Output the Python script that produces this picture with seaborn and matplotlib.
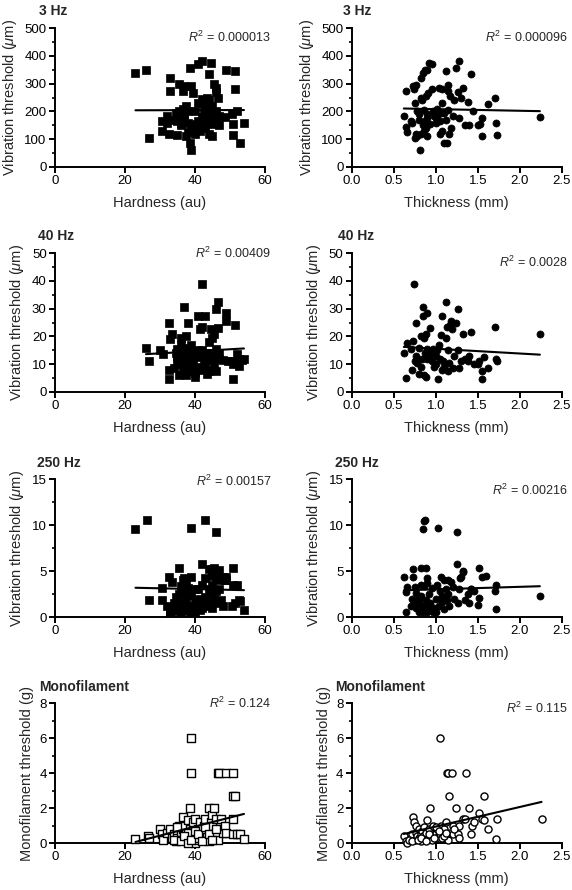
import numpy as np
import pandas as pd
import matplotlib
matplotlib.use("Agg")
import matplotlib.pyplot as plt
import seaborn as sns
from matplotlib.ticker import AutoMinorLocator, FormatStrFormatter

sns.set_style("ticks")
plt.rcParams["font.family"] = ["Liberation Sans", "DejaVu Sans"]
plt.rcParams["mathtext.fontset"] = "custom"
plt.rcParams["mathtext.rm"] = "Liberation Sans"
plt.rcParams["mathtext.it"] = "Liberation Sans:italic"

# ===============================
# Data
# ===============================
# 3 Hz
hard_3 = [23, 26, 27, 30.5, 30.5, 32, 32, 32.5, 33, 33,
          34, 34.5, 35, 35, 35.5, 35.5, 36, 36, 36, 36.5,
          36.5, 37, 37, 37, 37.5, 37.5, 38, 38, 38.5, 38.5,
          39, 39, 39, 39.5, 40, 40, 40.5, 41, 41, 41,
          41.5, 42, 42, 42, 42.5, 43, 43, 43.5, 44, 44,
          44, 44, 44.5, 44.5, 45, 45, 45, 45.5, 45.5, 46,
          46, 46, 46, 46.5, 47, 47, 48.5, 49, 50.5, 51,
          51, 51.5, 51.5, 52, 53, 54, 40, 43, 38, 35]
vib3_h = [340, 350, 105, 165, 130, 185, 160, 120, 275, 320,
          170, 195, 115, 185, 300, 200, 180, 150, 160, 275,
          210, 290, 190, 170, 110, 220, 200, 125, 355, 85,
          290, 60, 135, 265, 120, 155, 140, 230, 165, 370,
          130, 380, 245, 180, 200, 140, 225, 250, 335, 240,
          120, 175, 375, 195, 155, 110, 220, 300, 180, 285,
          270, 200, 160, 250, 150, 185, 180, 350, 190, 155,
          115, 345, 280, 200, 85, 160, 200, 165, 160, 165]
thick_3 = [0.62, 0.65, 0.65, 0.66, 0.7, 0.72, 0.73, 0.74, 0.75, 0.75,
           0.76, 0.77, 0.78, 0.78, 0.8, 0.8, 0.81, 0.82, 0.82, 0.83,
           0.84, 0.85, 0.85, 0.86, 0.86, 0.87, 0.87, 0.88, 0.88, 0.89,
           0.9, 0.9, 0.9, 0.91, 0.92, 0.93, 0.95, 0.96, 0.97, 0.98,
           1.0, 1.0, 1.02, 1.03, 1.04, 1.05, 1.05, 1.06, 1.07, 1.08,
           1.08, 1.1, 1.1, 1.12, 1.12, 1.13, 1.14, 1.15, 1.15, 1.16,
           1.17, 1.18, 1.2, 1.22, 1.24, 1.27, 1.28, 1.28, 1.3, 1.33,
           1.35, 1.38, 1.4, 1.42, 1.44, 1.5, 1.53, 1.55, 1.55, 1.62,
           1.7, 1.72, 1.73, 2.24]
vib3_t = [185, 275, 145, 125, 165, 160, 290, 280, 230, 105,
          295, 120, 200, 110, 190, 170, 60, 250, 120, 320,
          240, 340, 150, 205, 130, 350, 165, 255, 140, 350,
          190, 175, 110, 265, 375, 155, 280, 370, 200, 185,
          175, 160, 210, 190, 285, 120, 165, 195, 280, 230,
          130, 195, 85, 345, 170, 85, 295, 275, 205, 120,
          255, 140, 185, 240, 355, 270, 380, 175, 250, 285,
          150, 235, 150, 335, 200, 150, 155, 175, 110, 225,
          250, 160, 115, 180]

# 40 Hz
hard_40 = [26, 27, 30, 31, 32.5, 32.5, 32.5, 33, 33.5, 34,
           34.5, 35, 35, 35.5, 35.5, 36, 36, 36, 36.5, 36.5,
           37, 37, 37, 37.5, 37.5, 38, 38, 38, 38.5, 39,
           39, 39.5, 40, 40, 40, 40.5, 41, 41, 41.5, 42,
           42, 42, 42, 42.5, 43, 43, 43, 43.5, 44, 44,
           44, 44.5, 44.5, 45, 45, 45, 45.5, 45.5, 46, 46,
           46, 46, 46.5, 46.5, 47, 47, 48, 49, 49, 50.5,
           51, 51, 51.5, 52, 52.5, 53.5, 54, 38.5, 41, 39.5,
           35, 52.5, 49.5]
vib40_h = [16, 11, 15, 13.5, 8, 4.8, 25, 19, 21, 8.6,
           14, 15.5, 11, 6, 13, 17, 10, 19.5, 12, 8,
           30.5, 14, 11, 20, 6, 25, 16, 9, 7.5, 17,
           10, 8.5, 14, 5.5, 7, 12.5, 27.5, 9, 22.5, 39,
           15, 23.5, 8, 11, 27.5, 14, 10, 6.5, 18, 11.5,
           7.5, 22.5, 13, 19.5, 8, 14, 21, 10, 30, 15.5,
           7.5, 12.5, 32.5, 23, 14, 12, 11.5, 28.5, 25.5, 11,
           10, 4.5, 24, 13.5, 12, 11.5, 12, 13, 15, 11,
           12.5, 9.5, 11]
thick_40 = [0.62, 0.65, 0.66, 0.7, 0.72, 0.73, 0.74, 0.75, 0.76, 0.77,
            0.78, 0.8, 0.8, 0.82, 0.83, 0.84, 0.85, 0.85, 0.86, 0.86,
            0.87, 0.88, 0.88, 0.89, 0.9, 0.9, 0.92, 0.93, 0.95, 0.97,
            0.98, 1.0, 1.02, 1.03, 1.04, 1.05, 1.06, 1.07, 1.08, 1.09,
            1.1, 1.12, 1.12, 1.13, 1.14, 1.15, 1.16, 1.17, 1.18, 1.19,
            1.2, 1.22, 1.24, 1.26, 1.27, 1.28, 1.3, 1.33, 1.35, 1.38,
            1.4, 1.42, 1.45, 1.5, 1.52, 1.55, 1.55, 1.58, 1.62, 1.7,
            1.72, 1.73, 2.24, 1.0, 0.95]
vib40_t = [14, 5.2, 17.8, 15.5, 8, 18.5, 39, 11, 24.8, 13,
           10.5, 6.5, 16, 20, 9, 12, 27.5, 30.5, 19.5, 6,
           14, 21, 5.5, 28.5, 15.5, 12, 13, 23, 14, 15.5,
           9, 10, 15, 4.8, 17, 12, 20.5, 8, 27.5, 11,
           9, 32.5, 19.5, 23.5, 15, 7.5, 10.5, 24, 25.5, 22.5,
           8.5, 13, 25, 30, 15, 8.5, 11, 21, 12, 11,
           13, 21.5, 10, 10, 11, 7.5, 4.5, 12.5, 8.5, 23.5,
           12, 11, 21, 13, 11]

# 250 Hz
hard_250 = [23, 26.4, 27, 30.5, 30.5, 32, 32.5, 33, 33, 33.5,
            34, 34.5, 35, 35.5, 35.5, 36, 36, 36, 36.5, 36.5,
            37, 37, 37, 37.5, 37.5, 38, 38, 38.5, 39, 39,
            39, 39.5, 40, 40, 40.5, 41, 41, 41.5, 42, 42,
            42, 43, 43, 43, 43.5, 44, 44, 44, 44.5, 45,
            45, 45, 45, 45.5, 46, 46, 46, 46, 46.5, 47,
            47, 47.5, 48, 48.5, 49, 50.5, 51, 51, 51.5, 52,
            52.5, 53, 54, 38, 40, 35, 41.5, 47, 48,
            49, 45.5, 33, 34]
vib250_h = [9.6, 10.5, 1.8, 3.2, 1.9, 1.2, 4.3, 0.5, 0.9, 3.8,
            1.5, 2.2, 0.7, 5.3, 2.5, 3.4, 1.0, 0.5, 4.0, 2.8,
            4.2, 1.5, 0.8, 3.6, 2.0, 3.2, 1.2, 0.6, 9.7, 4.3,
            2.4, 1.0, 1.8, 0.6, 1.3, 2.0, 3.0, 1.5, 5.8, 3.5,
            1.0, 10.5, 4.2, 2.2, 1.5, 5.2, 3.0, 1.2, 2.5, 5.2,
            4.5, 3.5, 1.0, 2.0, 9.3, 4.2, 2.8, 1.5, 5.0, 4.0,
            3.0, 1.8, 1.2, 4.0, 4.3, 1.2, 5.3, 3.5, 1.5, 3.5,
            1.8, 1.7, 0.8, 2.5, 3.0, 1.8, 0.8, 5.1, 4.3,
            4.0, 5.3, 0.6, 0.8]
thick_250 = [0.62, 0.65, 0.65, 0.66, 0.7, 0.72, 0.73, 0.73, 0.75, 0.76,
             0.77, 0.78, 0.8, 0.8, 0.82, 0.82, 0.83, 0.85, 0.87, 0.85,
             0.86, 0.86, 0.87, 0.88, 0.88, 0.89, 0.9, 0.9, 0.92, 0.93,
             0.95, 0.97, 0.98, 1.0, 1.02, 1.03, 1.04, 1.05, 1.06, 1.07,
             1.08, 1.1, 1.1, 1.12, 1.13, 1.14, 1.15, 1.16, 1.18, 1.2,
             1.22, 1.25, 1.25, 1.27, 1.28, 1.3, 1.32, 1.35, 1.38, 1.4,
             1.42, 1.45, 1.5, 1.52, 1.52, 1.6, 1.55, 1.7, 1.72, 1.72,
             2.24, 1.0, 0.95, 0.74, 0.8, 0.83, 0.85, 0.88,
             0.92, 1.42, 1.32, 1.29]
vib250_t = [4.4, 0.5, 2.7, 3.3, 1.2, 2.0, 5.2, 4.4, 3.3, 2.6,
            1.0, 1.8, 0.6, 1.5, 5.3, 2.3, 3.5, 9.6, 10.5, 1.2,
            10.4, 3.4, 0.8, 5.3, 1.9, 4.2, 3.7, 0.6, 2.5, 1.5,
            3.2, 0.6, 1.0, 2.0, 3.5, 9.7, 1.2, 2.8, 4.3, 1.6,
            2.3, 4.0, 0.9, 3.0, 1.8, 4.0, 2.5, 1.2, 3.8, 3.3,
            2.0, 5.8, 9.3, 1.5, 3.0, 4.3, 5.0, 1.8, 2.5, 1.5,
            3.0, 2.8, 1.3, 5.3, 2.1, 4.5, 4.3, 2.8, 3.5, 0.9,
            2.3, 0.6, 1.0, 1.5, 1.9, 1.0, 0.6, 1.3,
            0.8, 3.1, 4.9, 4.2]

# Monofilament
hard_mono = [23, 26.5, 27, 30, 30.5, 31, 32, 33, 33.5, 34,
             34.5, 35, 35, 35.5, 36, 36.5, 36.5, 37, 37, 37.5,
             38, 38, 38.5, 38.5, 39, 39, 39, 39.5, 40, 40,
             40, 41, 41, 41.5, 42, 42, 42.5, 43, 43, 43.5,
             44, 44, 44.5, 45, 45, 45, 45.5, 45.5, 46, 46,
             46.5, 46.5, 47, 47.5, 48, 48.5, 49, 49, 51, 51,
             51, 51.5, 51, 52, 53, 54, 36, 42, 44, 38,
             40, 34, 35, 36, 37, 38, 39, 40, 41, 42,
             43, 44, 45, 46]
mono_h = [0.25, 0.4, 0.3, 0.8, 0.5, 0.2, 0.6, 0.8, 0.3, 0.5,
          0.1, 0.7, 0.3, 1.0, 0.5, 1.5, 0.8, 0.3, 1.0, 0.6,
          1.3, 0.2, 2.0, 0.8, 6.0, 4.0, 0.4, 1.2, 0.0, 1.4,
          0.6, 0.2, 0.8, 1.2, 0.5, 0.4, 1.0, 1.4, 0.3, 0.6,
          2.0, 0.8, 1.2, 1.6, 0.5, 1.0, 2.0, 0.3, 1.4, 0.6,
          4.0, 0.2, 4.0, 1.4, 0.6, 1.0, 4.0, 0.6, 4.0, 2.7,
          1.4, 2.7, 0.5, 0.5, 0.5, 0.25, 0.2, 0.8, 0.1, 0.6,
          0.3, 0.2, 0.9, 0.1, 0.4, 0.0, 0.2, 0.7, 0.5, 0.1,
          0.9, 0.5, 0.2, 0.8]
thick_mono = [0.62, 0.65, 0.66, 0.7, 0.72, 0.73, 0.74, 0.75, 0.76, 0.77,
              0.78, 0.8, 0.8, 0.82, 0.83, 0.84, 0.85, 0.86, 0.87, 0.88,
              0.9, 0.9, 0.92, 0.93, 0.95, 0.97, 1.0, 1.0, 1.02, 1.05,
              1.05, 1.06, 1.08, 1.1, 1.12, 1.13, 1.15, 1.15, 1.16, 1.17,
              1.19, 1.2, 1.2, 1.24, 1.27, 1.28, 1.28, 1.32, 1.35, 1.36,
              1.4, 1.42, 1.43, 1.45, 1.52, 1.55, 1.57, 1.57, 1.62, 1.72,
              1.73, 2.26, 0.95, 1.1, 1.0, 0.68, 0.72, 0.79, 0.82, 0.88,
              0.92, 0.98, 1.04, 1.12, 1.22]
mono_t = [0.4, 0.1, 0.0, 0.3, 0.5, 1.5, 1.2, 0.2, 0.6, 1.0,
          0.4, 0.3, 0.8, 0.5, 0.1, 0.7, 0.4, 0.9, 0.3, 0.6,
          1.3, 0.2, 0.8, 2.0, 0.5, 1.0, 0.6, 0.3, 0.8, 6.0,
          0.5, 1.0, 0.3, 0.8, 1.2, 4.0, 4.0, 0.2, 2.7, 0.6,
          4.0, 1.0, 0.5, 2.0, 0.5, 1.0, 0.3, 1.4, 1.4, 4.0,
          2.0, 0.5, 1.0, 1.2, 1.7, 1.4, 2.7, 1.3, 0.8, 0.25,
          1.4, 1.4, 0.2, 0.4, 0.9, 0.2, 0.1, 0.2, 0.3, 0.1,
          0.5, 0.3, 0.7, 0.6, 0.8]

titles = ["3 Hz", "40 Hz", "250 Hz", "Monofilament"]
r2_hard = ["0.000013", "0.00409", "0.00157", "0.124"]
r2_thick = ["0.000096", "0.0028", "0.00216", "0.115"]
ylims = [500, 50, 15, 8]
ysteps = [100, 10, 5, 2]
ylabels = [r"Vibration threshold ($\mu$m)"] * 3 + ["Monofilament threshold (g)"]

hard_x = [hard_3, hard_40, hard_250, hard_mono]
hard_y = [vib3_h, vib40_h, vib250_h, mono_h]
thick_x = [thick_3, thick_40, thick_250, thick_mono]
thick_y = [vib3_t, vib40_t, vib250_t, mono_t]

# ===============================
# Layout
# ===============================
fig = plt.figure(figsize=(5.72, 8.9), dpi=100)
bottoms = [0.8124, 0.5596, 0.3067, 0.0528]
heights = [0.156, 0.156, 0.155, 0.157]
lefts = [0.0962, 0.615]
width = 0.367

title_x = [[-0.076, -0.043], [-0.08, -0.067], [-0.085, -0.08], [-0.076, -0.08]]
r2_y = [[0.935, 0.935], [1.0, 0.93], [0.98, 0.92], [1.0, 0.96]]


def draw_panel(ax, x, y, marker, hollow, xmax, xstep, ymax, ystep):
    df = pd.DataFrame({"x": x, "y": y})
    if hollow:
        sns.scatterplot(data=df, x="x", y="y", ax=ax, marker=marker, s=26,
                        color="white", edgecolor="black", linewidth=1.0,
                        zorder=3, clip_on=False)
    else:
        sns.scatterplot(data=df, x="x", y="y", ax=ax, marker=marker, s=26,
                        color="black", edgecolor="black", linewidth=0.5,
                        zorder=3, clip_on=False)
    sns.regplot(data=df, x="x", y="y", ax=ax, scatter=False, ci=None,
                color="black", line_kws={"lw": 1.5, "zorder": 4})
    ax.set_xlim(0, xmax)
    ax.set_ylim(0, ymax)
    ax.set_xticks(np.arange(0, xmax + xstep / 2, xstep))
    ax.set_yticks(np.arange(0, ymax + ystep / 2, ystep))
    ax.yaxis.set_minor_locator(AutoMinorLocator(2))
    sns.despine(ax=ax)
    for s in ["left", "bottom"]:
        ax.spines[s].set_linewidth(1.4)
        ax.spines[s].set_color("black")
    ax.tick_params(which="major", direction="out", length=4, width=1.4,
                   labelsize=9.5, colors="black", pad=2)
    ax.tick_params(which="minor", direction="out", length=2.5, width=1.2,
                   colors="black")


for i in range(4):
    for j in range(2):
        ax = fig.add_axes([lefts[j], bottoms[i], width, heights[i]])
        if j == 0:
            draw_panel(ax, hard_x[i], hard_y[i], "s", i == 3, 60, 20,
                       ylims[i], ysteps[i])
            ax.set_xlabel("Hardness (au)", fontsize=10.5, labelpad=6)
            r2 = r2_hard[i]
        else:
            draw_panel(ax, thick_x[i], thick_y[i], "o", i == 3, 2.5, 0.5,
                       ylims[i], ysteps[i])
            ax.xaxis.set_major_formatter(FormatStrFormatter("%.1f"))
            ax.set_xlabel("Thickness (mm)", fontsize=10.5, labelpad=6)
            r2 = r2_thick[i]
        ax.set_ylabel(ylabels[i], fontsize=10.5, labelpad=4)
        ax.text(title_x[i][j], 1.12, titles[i], transform=ax.transAxes,
                fontsize=10, fontweight="bold", ha="left", va="center")
        ax.text(1.03, r2_y[i][j], r"$R^2$ = " + r2, transform=ax.transAxes,
                fontsize=9, ha="right", va="center")

fig.savefig("out.png", dpi=100)
